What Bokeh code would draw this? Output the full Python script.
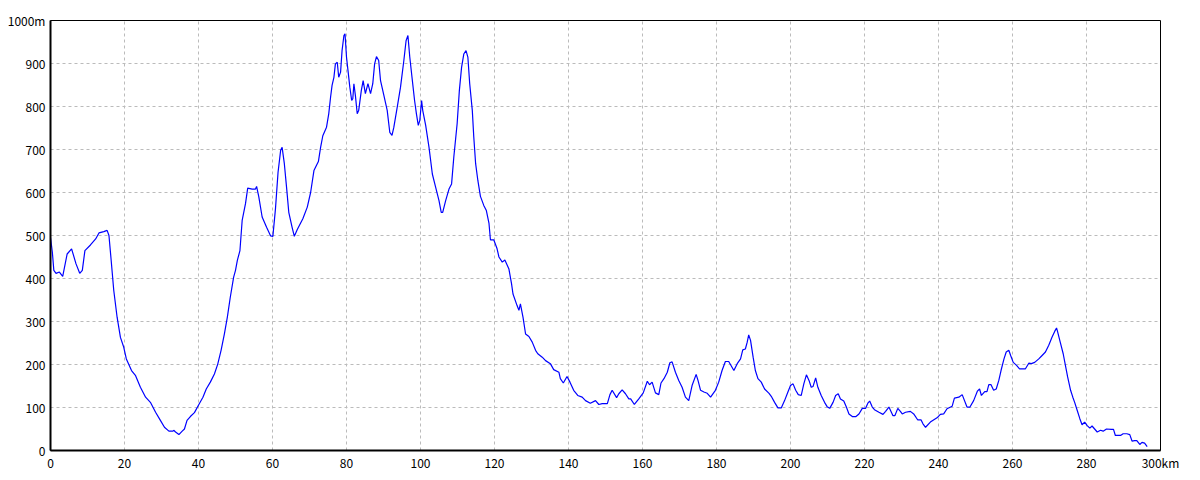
from bokeh.plotting import figure
from bokeh.models import Range1d, FixedTicker
from bokeh.embed import file_html
from bokeh.resources import INLINE

km = [0.0, 0.5, 0.9, 1.5, 2.4, 3.3, 4.5, 5.7, 6.9, 7.9, 8.6, 9.3, 10.8, 12.2, 13.1, 14.4, 15.3, 15.8, 16.4, 17.1,
      18.0, 18.9, 19.8, 20.5, 21.9, 23.0, 24.3, 25.7, 27.0, 28.4, 29.7, 30.8, 32.0, 33.1, 33.3, 33.8, 34.7, 35.6, 36.2, 36.9,
      37.8, 38.9, 40.1, 41.2, 42.1, 43.2, 44.3, 45.2, 46.1, 47.0, 47.8, 48.6, 49.5, 50.0, 50.5, 51.2, 51.8, 52.7, 53.3, 54.5,
      55.4, 55.7, 56.3, 57.2, 58.4, 59.5, 60.1, 60.8, 61.5, 62.2, 62.6, 63.2, 63.8, 64.4, 65.3, 65.9, 66.7, 68.2, 69.4, 70.3,
      71.2, 72.4, 73.0, 73.6, 74.6, 75.2, 75.7, 76.1, 76.6, 77.0, 77.5, 77.9, 78.4, 78.8, 79.3, 79.6, 80.0, 80.4, 80.9, 81.4,
      81.7, 82.0, 82.4, 82.9, 83.3, 84.0, 84.5, 85.1, 85.8, 86.5, 87.1, 87.6, 88.1, 88.7, 89.2, 90.1, 91.0, 91.7, 92.3, 92.8,
      93.7, 94.6, 95.5, 96.1, 96.6, 97.1, 97.7, 98.4, 98.9, 99.4, 99.8, 100.3, 100.6, 101.4, 102.3, 103.2, 104.1, 105.0, 105.6, 106.0,
      106.8, 107.7, 108.4, 109.0, 109.9, 110.5, 111.1, 111.7, 112.3, 112.8, 113.3, 114.0, 114.4, 114.9, 115.5, 116.2, 117.1, 117.8, 118.5, 118.9,
      119.8, 120.7, 121.2, 122.1, 122.8, 123.9, 124.6, 125.0, 126.1, 126.6, 127.0, 127.7, 128.4, 129.3, 130.2, 131.1, 131.7, 132.9, 133.8, 135.1,
      136.0, 137.4, 137.8, 138.6, 139.6, 140.4, 141.4, 142.5, 143.7, 144.6, 145.9, 147.3, 148.2, 149.1, 150.5, 151.2, 151.8, 153.0, 153.6, 154.5,
      155.4, 156.3, 156.8, 157.8, 159.0, 160.2, 161.3, 161.9, 162.6, 163.5, 164.4, 165.0, 165.8, 166.7, 167.4, 168.0, 168.9, 169.8, 170.7, 171.6,
      172.5, 173.4, 174.5, 175.0, 175.7, 176.6, 177.5, 178.4, 179.7, 180.6, 181.5, 182.4, 183.3, 184.7, 185.6, 186.5, 187.1, 187.8, 188.3, 188.7,
      189.2, 189.9, 190.5, 191.2, 192.1, 193.0, 194.2, 194.8, 195.7, 196.6, 197.5, 198.4, 199.3, 200.0, 200.7, 201.4, 202.1, 202.9, 203.6, 204.3,
      205.0, 205.6, 206.1, 206.8, 207.4, 208.3, 209.2, 209.9, 210.6, 211.5, 212.2, 212.9, 213.5, 214.4, 215.1, 215.8, 216.7, 217.7, 218.5, 219.4,
      220.3, 220.9, 221.4, 222.1, 222.7, 223.9, 225.0, 225.7, 226.6, 227.7, 228.2, 229.0, 229.7, 230.2, 231.1, 232.4, 233.3, 234.4, 235.3, 235.8,
      236.5, 237.8, 239.6, 240.5, 241.4, 242.3, 243.7, 244.3, 245.5, 246.4, 247.7, 248.5, 249.5, 250.5, 251.1, 251.6, 252.5, 253.1, 253.6, 254.2,
      254.9, 255.6, 256.3, 256.9, 257.7, 258.3, 259.0, 259.5, 260.2, 261.1, 261.9, 262.8, 263.5, 264.4, 265.1, 266.0, 267.1, 268.0, 268.9, 269.8,
      270.7, 271.4, 271.9, 272.2, 272.9, 273.7, 274.3, 274.9, 275.7, 276.3, 276.8, 277.5, 278.2, 278.8, 279.5, 280.2, 280.9, 281.5, 282.2, 282.9,
      283.8, 284.5, 285.4, 286.7, 287.3, 287.8, 289.2, 289.9, 290.9, 291.7, 292.3, 293.0, 293.6, 294.4, 295.0, 295.7, 296.4]

elev = [495, 461, 419, 412, 415, 405, 457, 469, 434, 412, 419, 465, 478, 492, 506, 509, 512, 500, 442, 372,
        310, 263, 240, 213, 186, 174, 147, 124, 112, 89, 70, 54, 45, 45, 47, 43, 37, 45, 50, 70,
        79, 88, 107, 124, 143, 159, 178, 201, 233, 271, 310, 357, 403, 419, 442, 465, 535, 574, 610, 608,
        608, 614, 590, 543, 519, 499, 498, 562, 647, 698, 705, 667, 612, 554, 519, 498, 514, 539, 566, 600,
        651, 672, 705, 732, 752, 783, 822, 849, 868, 899, 903, 868, 880, 930, 965, 969, 915, 884, 845, 814,
        818, 853, 826, 783, 791, 837, 860, 830, 853, 830, 853, 899, 916, 907, 860, 826, 791, 740, 733, 752,
        798, 845, 907, 953, 965, 915, 868, 814, 783, 756, 767, 814, 791, 756, 705, 643, 612, 581, 554, 554,
        581, 608, 620, 682, 760, 837, 891, 922, 930, 915, 853, 791, 729, 667, 628, 591, 570, 558, 529, 490,
        490, 469, 450, 438, 443, 422, 388, 364, 337, 326, 341, 310, 271, 265, 252, 233, 225, 217, 209, 202,
        188, 182, 167, 157, 172, 159, 140, 128, 124, 116, 110, 116, 107, 109, 109, 130, 140, 123, 132, 141,
        132, 120, 120, 107, 120, 134, 161, 153, 159, 134, 130, 157, 167, 182, 204, 206, 182, 163, 147, 124,
        116, 151, 177, 163, 140, 136, 133, 124, 140, 159, 186, 207, 207, 186, 202, 213, 234, 236, 252, 269,
        256, 217, 186, 167, 159, 143, 133, 126, 112, 99, 99, 116, 136, 151, 155, 140, 130, 128, 155, 176,
        163, 147, 149, 169, 147, 128, 112, 102, 98, 112, 128, 132, 120, 115, 101, 85, 79, 79, 85, 98,
        98, 110, 115, 101, 95, 89, 84, 91, 101, 81, 81, 98, 91, 85, 89, 91, 85, 71, 71, 62,
        54, 66, 76, 84, 85, 97, 103, 122, 124, 130, 101, 101, 116, 138, 143, 128, 137, 137, 153, 153,
        140, 143, 163, 186, 213, 229, 233, 221, 205, 198, 190, 190, 190, 203, 202, 205, 213, 221, 229, 245,
        264, 277, 285, 276, 252, 225, 198, 171, 140, 124, 112, 93, 74, 60, 66, 58, 52, 57, 50, 43,
        47, 45, 50, 49, 49, 35, 35, 39, 39, 37, 22, 23, 23, 14, 19, 17, 9]

x_ticks = list(range(0, 301, 20))
y_ticks = list(range(0, 1001, 100))
x_overrides = {300: "300km"}
y_overrides = {1000: "1000m"}

FONT = "Noto Sans CJK JP"

p = figure(width=1192, height=470, output_backend="svg", toolbar_location=None,
           x_range=Range1d(0, 300), y_range=Range1d(0, 1000),
           min_border_left=50, min_border_right=32, min_border_top=20, min_border_bottom=20)
p.frame_width = 1110
p.frame_height = 430

p.line(km, elev, line_color="#0000ff", line_width=1.2)

p.xaxis.ticker = FixedTicker(ticks=x_ticks)
p.yaxis.ticker = FixedTicker(ticks=y_ticks)
p.xaxis.major_label_overrides = x_overrides
p.yaxis.major_label_overrides = y_overrides

for ax in (p.xaxis, p.yaxis):
    ax.major_tick_in = 0
    ax.major_tick_out = 0
    ax.minor_tick_in = 0
    ax.minor_tick_out = 0
    ax.axis_line_color = "black"
    ax.axis_line_width = 2
    ax.major_label_text_font = FONT
    ax.major_label_text_font_size = "12px"
    ax.major_label_text_color = "black"
p.xaxis.major_label_standoff = 3
p.yaxis.major_label_standoff = 5

p.grid.grid_line_color = "#bbbbbb"
p.grid.grid_line_dash = "3 3"
p.grid.grid_line_width = 1

p.outline_line_color = "black"
p.outline_line_width = 1
p.outline_line_alpha = 1
p.background_fill_color = "white"
p.border_fill_color = "white"

open("out.html", "w").write(file_html(p, INLINE))
